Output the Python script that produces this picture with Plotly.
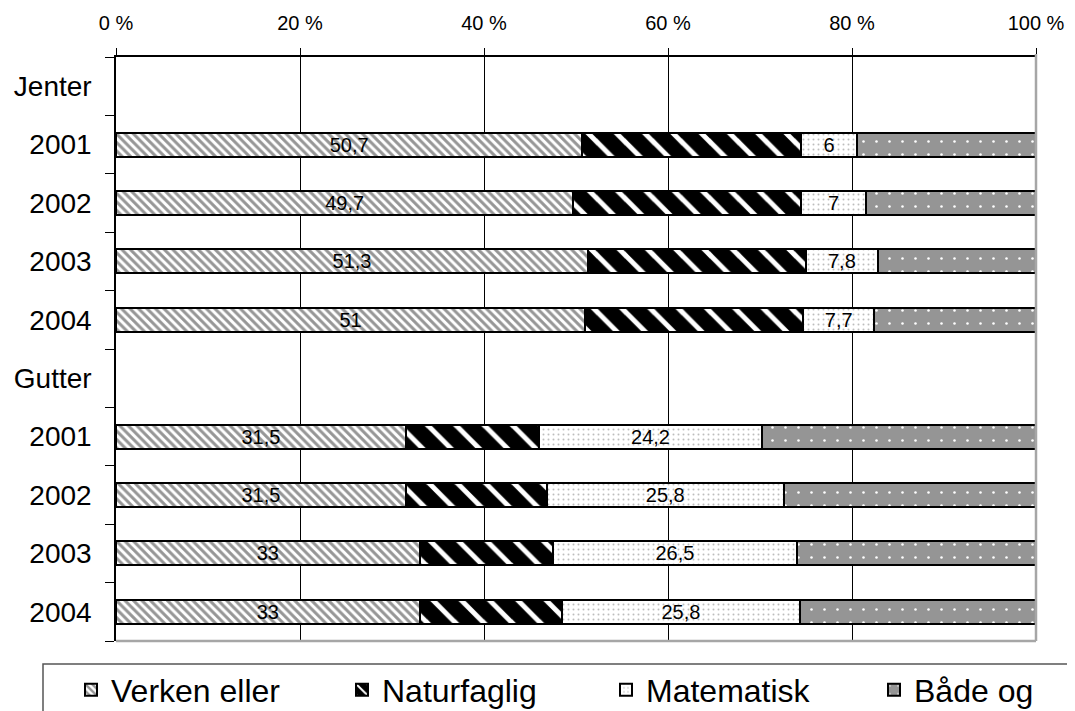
import plotly.graph_objects as go

# ---- data ----
row_labels = ["Jenter", "2001", "2002", "2003", "2004",
              "Gutter", "2001", "2002", "2003", "2004"]
verken_eller = [None, 50.7, 49.7, 51.3, 51.0, None, 31.5, 31.5, 33.0, 33.0]
naturfaglig = [None, 23.8, 24.8, 23.7, 23.7, None, 14.5, 15.3, 14.5, 15.5]
matematisk = [None, 6.0, 7.0, 7.8, 7.7, None, 24.2, 25.8, 26.5, 25.8]
baade_og = [None, 19.5, 18.5, 17.2, 17.6, None, 29.8, 27.4, 26.0, 25.7]
series_names = ["Verken eller", "Naturfaglig", "Matematisk", "Både og"]
x_tick_values = [0, 20, 40, 60, 80, 100]

FONT = "Liberation Sans, Arial, sans-serif"
OFF = 8  # page body margin
W, H = 1075, 711
ML, MT = 116 - OFF, 57 - OFF
PW, PH = 920, 584
MR = W - ML - PW
MB = H - MT - PH

def px_x(x):  # page pixel -> paper
    return (x - OFF - ML) / PW

def px_y(y):
    return (MT + PH - (y - OFF)) / PH

def fmt(v):
    if v is None:
        return ""
    return f"{v:g}".replace(".", ",")

rows = list(range(len(row_labels)))

styles = [
    dict(shape="\\", fgcolor="#969696", bgcolor="white", size=6, solidity=0.5),
    dict(shape="\\", fgcolor="white", bgcolor="black", size=20, solidity=0.25),
    dict(shape=".", fgcolor="#bdbdbd", bgcolor="white", size=5, solidity=0.12),
    dict(shape=".", fgcolor="white", bgcolor="#959595", size=13, solidity=0.03),
]
all_series = [verken_eller, naturfaglig, matematisk, baade_og]
with_labels = [True, False, True, False]
legend_ids = ["legend", "legend2", "legend3", "legend4"]

fig = go.Figure()
for name, vals, st, lab, lg in zip(series_names, all_series, styles, with_labels, legend_ids):
    fig.add_trace(go.Bar(
        name=name,
        y=rows,
        x=vals,
        orientation="h",
        width=0.41,
        marker=dict(color=st["bgcolor"], pattern=dict(**st, fillmode="replace"),
                    line=dict(color="black", width=2)),
        text=[fmt(v) for v in vals] if lab else None,
        textposition="inside" if lab else "none",
        insidetextanchor="middle",
        textangle=0,
        constraintext="none",
        insidetextfont=dict(family=FONT, size=20, color="black"),
        legend=lg,
        hoverinfo="skip",
    ))

fig.update_layout(
    width=W, height=H,
    margin=dict(l=ML, r=MR, t=MT, b=MB, autoexpand=False),
    barmode="stack",
    plot_bgcolor="white",
    paper_bgcolor="white",
    font=dict(family=FONT, color="black"),
    showlegend=True,
    xaxis=dict(
        side="top", range=[0, 100], tickmode="array", tickvals=x_tick_values,
        ticktext=[f"{v} %" for v in x_tick_values],
        ticks="outside", ticklen=7, tickcolor="black",
        tickfont=dict(size=20, color="black"),
        showgrid=True, gridcolor="black", gridwidth=1,
        showline=True, linecolor="black", linewidth=1.5,
        zeroline=False, ticklabelstandoff=10,
    ),
    yaxis=dict(
        range=[len(row_labels) - 0.5, -0.5], tickmode="array",
        tickvals=rows, ticktext=row_labels, ticks="",
        tickfont=dict(size=28, color="black"),
        ticklabelstandoff=17,
        showgrid=False, zeroline=False,
        showline=True, linecolor="black", linewidth=1.5,
        minor=dict(tickmode="array",
                   tickvals=[r - 0.5 for r in rows] + [len(rows) - 0.5],
                   ticks="outside", ticklen=9, tickcolor="black", tickwidth=1,
                   showgrid=False),
    ),
    shapes=[
        # right and bottom grey frame
        dict(type="line", xref="paper", yref="paper", x0=1, x1=1, y0=0, y1=1.005,
             line=dict(color="#a6a6a6", width=2.5)),
        dict(type="line", xref="paper", yref="paper", x0=0, x1=1, y0=0, y1=0,
             line=dict(color="#a6a6a6", width=2.5)),
        # legend box
        dict(type="rect", xref="paper", yref="paper",
             x0=px_x(43), x1=px_x(1090), y0=px_y(664), y1=px_y(730),
             line=dict(color="#555555", width=1.5), fillcolor="rgba(0,0,0,0)"),
    ],
)

# legend text start positions (page px) in the reference
legend_text_px = [112, 383, 647, 915]
for lg, tp in zip(legend_ids, legend_text_px):
    fig.update_layout({lg: dict(
        x=px_x(tp - 41), xanchor="left", y=px_y(690), yanchor="middle",
        orientation="h", bgcolor="rgba(0,0,0,0)", borderwidth=0,
        font=dict(family=FONT, size=32, color="black"),
    )})

fig.write_html("out.html")
